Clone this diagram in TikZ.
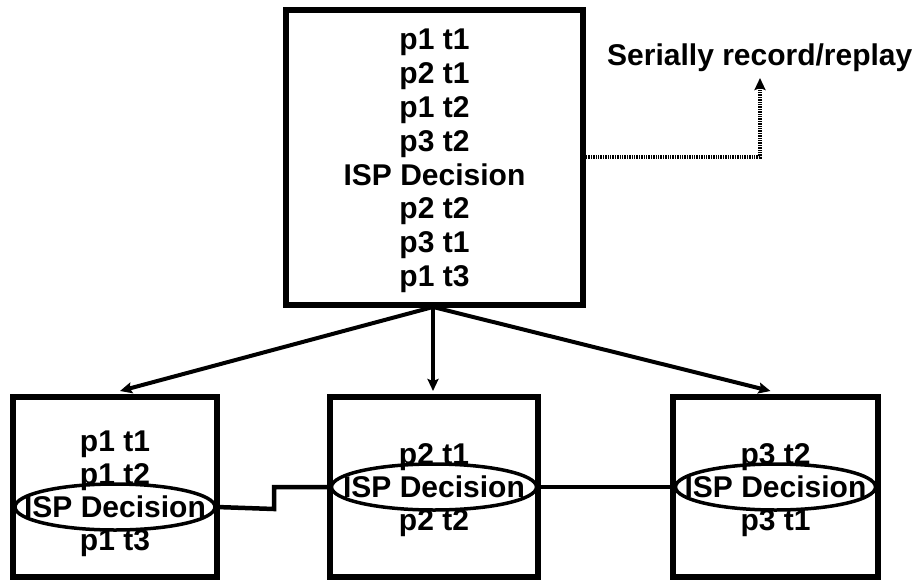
\documentclass[tikz,border=0pt]{standalone}
\usepackage{fontspec}
\setmainfont{Liberation Sans}
\usetikzlibrary{arrows.meta,shapes.geometric,calc}
\begin{document}
\begin{tikzpicture}[x=1pt,y=-1pt,
  txt/.style={font=\fontsize{30}{33.8}\selectfont\bfseries, align=center},
  box/.style={draw, rectangle, line width=6pt, inner sep=0pt},
  lineitem/.style={txt, anchor=base, inner sep=0pt},
  isp/.style={draw, ellipse, line width=3.5pt, inner sep=0pt,
              minimum width=200pt, minimum height=46pt},
  arr/.style={line width=4pt, -{Stealth[length=12pt,width=11pt,inset=2pt]}},
  link/.style={line width=4.5pt},
  dotarr/.style={line width=3.5pt, dash pattern=on 1.4pt off 1pt,
                 -{Stealth[length=12pt,width=11pt,inset=2pt]}}]
\useasboundingbox (0,0) rectangle (915,581);

% full serial log
\node[box, minimum width=297pt, minimum height=295pt] (top) at (434.5,157.5) {};
\node[txt, inner sep=0pt] (toptext) at (434.5,161)
  {p1 t1\\p2 t1\\p1 t2\\p3 t2\\ISP Decision\\p2 t2\\p3 t1\\p1 t3};

% per-process logs
\node[box, minimum width=204pt, minimum height=180pt] (lbox) at (115,487) {};
\node[box, minimum width=208pt, minimum height=180pt] (mbox) at (434,487) {};
\node[box, minimum width=205pt, minimum height=180pt] (rbox) at (775.5,487) {};

% left log: p1
\node[isp] (lell) at (115,507) {};
\node[txt, inner sep=0pt] (lisp) at (lell.center) {ISP Decision};
\node[lineitem] (l1) at ($(lell.center)+(0,-55.3)$) {p1 t1};
\node[lineitem] (l2) at ($(lell.center)+(0,-22.3)$) {p1 t2};
\node[lineitem] (l3) at ($(lell.center)+(0,43.7)$) {p1 t3};

% middle log: p2
\node[isp, minimum width=205pt] (mell) at (434,487) {};
\node[txt, inner sep=0pt] (misp) at (mell.center) {ISP Decision};
\node[lineitem] (m1) at ($(mell.center)+(0,-22.3)$) {p2 t1};
\node[lineitem] (m2) at ($(mell.center)+(0,43.7)$) {p2 t2};

% right log: p3
\node[isp] (rell) at (775.5,487) {};
\node[txt, inner sep=0pt] (risp) at (rell.center) {ISP Decision};
\node[lineitem] (r1) at ($(rell.center)+(0,-22.3)$) {p3 t2};
\node[lineitem] (r2) at ($(rell.center)+(0,43.7)$) {p3 t1};

% split of the serial log
\coordinate (fan) at (433,307);
\draw[arr] (fan) -- ([xshift=5pt,yshift=3pt]lbox.north);
\draw[arr] (fan) -- ([yshift=3pt]mbox.north -| fan);
\draw[arr] (fan) -- ([xshift=-5pt,yshift=3pt]rbox.north);

% ISP decisions linked across the logs
\coordinate (step1) at (274,509);
\draw[link] (lell.east) -- (step1) |- (mell.west);
\draw[link] (mell.east) -- (rell.west);

% serial record/replay
\node[txt, anchor=base west, inner sep=0pt] (srr) at (607,65) {Serially record/replay};
\coordinate (bend) at (760,157);
\coordinate (tipend) at (760,78);
\draw[dotarr] (top.east |- bend) -- (bend) -- (tipend);
\end{tikzpicture}
\end{document}
